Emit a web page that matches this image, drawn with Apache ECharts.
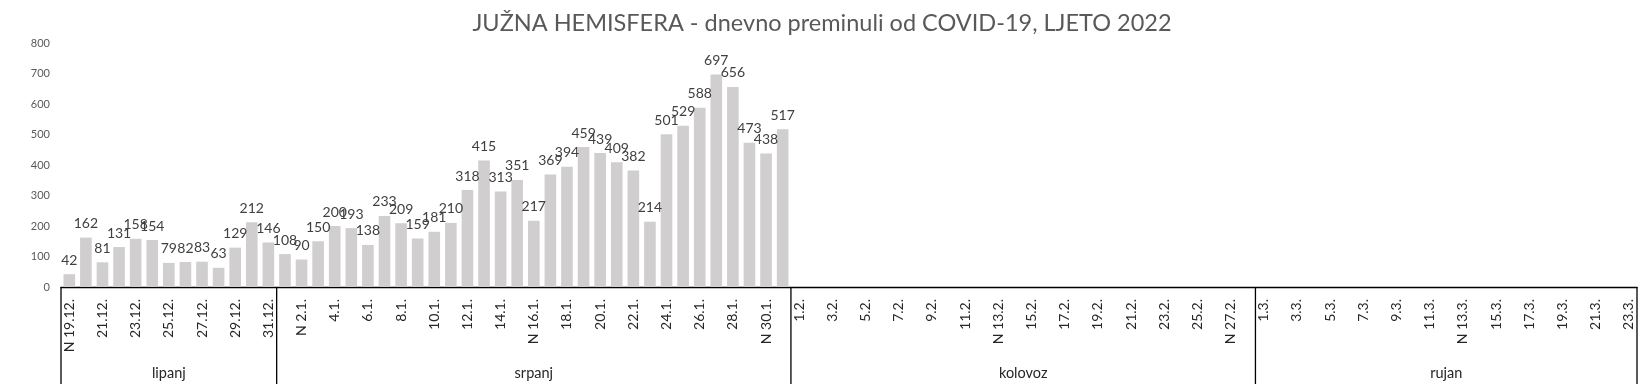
<!DOCTYPE html>
<html><head><meta charset="utf-8">
<script src="https://cdn.jsdelivr.net/npm/echarts@6/dist/echarts.min.js"></script>
<style>html,body{margin:0;padding:0;background:#fff}#c{width:1644px;height:384px}</style>
</head><body><div id="c"></div>
<script>
// Month groups: name, month number, first day, last day
const monthNames = ['lipanj', 'srpanj', 'kolovoz', 'rujan'];
const monthNums  = [12, 1, 2, 3];
const monthFirst = [19, 1, 1, 1];
const monthLast  = [31, 31, 28, 23];
// Sunday marker every 7 days starting from the first category (N 19.12.)
const sundayPrefix = 'N ';

// Daily deaths (only first two months have data)
const deathsLipanj = [42,162,81,131,158,154,79,82,83,63,129,212,146];
const deathsSrpanj = [108,90,150,200,193,138,233,209,159,181,210,318,415,313,351,217,369,394,459,439,409,382,214,501,529,588,697,656,473,438,517];

const yTicks = { min: 0, max: 800, interval: 100 };
const titleText = 'JUŽNA HEMISFERA - dnevno preminuli od COVID-19, LJETO 2022';

// build categories
const categories = [];
const monthRanges = [];
for (let m = 0; m < monthNames.length; m++) {
  const start = categories.length;
  for (let d = monthFirst[m]; d <= monthLast[m]; d++) {
    const idx = categories.length;
    categories.push((idx % 7 === 0 ? sundayPrefix : '') + d + '.' + monthNums[m] + '.');
  }
  monthRanges.push([start, categories.length - 1, 0]);
}
const values = deathsLipanj.concat(deathsSrpanj);

const FONT = 'Lato';
const chart = echarts.init(document.getElementById('c'), null, { renderer: 'canvas' });
chart.setOption({
  animation: false,
  backgroundColor: '#fff',
  title: {
    text: titleText, left: 'center', top: 6,
    textStyle: { fontFamily: FONT, fontSize: 23.5, fontWeight: 'normal', color: '#595959' }
  },
  grid: { left: 61, right: 7, top: 43, bottom: 97, containLabel: false },
  xAxis: {
    type: 'category', data: categories,
    axisLine: { show: true, lineStyle: { color: '#000', width: 1.3 } },
    axisTick: { show: false },
    axisLabel: { interval: 1, rotate: 90, margin: 12, fontFamily: FONT, fontSize: 14, color: '#262626' },
    splitLine: { show: false }
  },
  yAxis: {
    type: 'value', min: yTicks.min, max: yTicks.max, interval: yTicks.interval,
    axisLine: { show: false }, axisTick: { show: false },
    splitLine: { show: false },
    axisLabel: { margin: 11, fontFamily: FONT, fontSize: 11, color: '#595959' }
  },
  series: [
    {
      type: 'bar', data: values, barCategoryGap: '30%',
      itemStyle: { color: '#d0cece' },
      label: { show: true, position: 'top', distance: 7, fontFamily: FONT, fontSize: 14, color: '#404040' }
    },
    {
      type: 'custom', data: monthRanges, encode: { x: [0, 1], y: 2 }, clip: false, z: 5,
      renderItem: function (params, api) {
        const s = api.value(0), e = api.value(1);
        const p0 = api.coord([s, 0]);
        const p1 = api.coord([e, 0]);
        const bw = api.size([1, 0])[0];
        const left = p0[0] - bw / 2, right = p1[0] + bw / 2, y0 = p0[1];
        const children = [
          { type: 'line', shape: { x1: left, y1: y0, x2: left, y2: y0 + 97 }, style: { stroke: '#000', lineWidth: 1.3 } },
          { type: 'text', x: (left + right) / 2, y: y0 + 86,
            style: { text: monthNames[params.dataIndex], fill: '#262626', font: '14.5px ' + FONT, align: 'center', verticalAlign: 'middle' } }
        ];
        if (params.dataIndex === monthNames.length - 1) {
          children.push({ type: 'line', shape: { x1: right, y1: y0, x2: right, y2: y0 + 97 }, style: { stroke: '#000', lineWidth: 1.3 } });
        }
        return { type: 'group', children: children };
      }
    }
  ]
});
</script></body></html>
